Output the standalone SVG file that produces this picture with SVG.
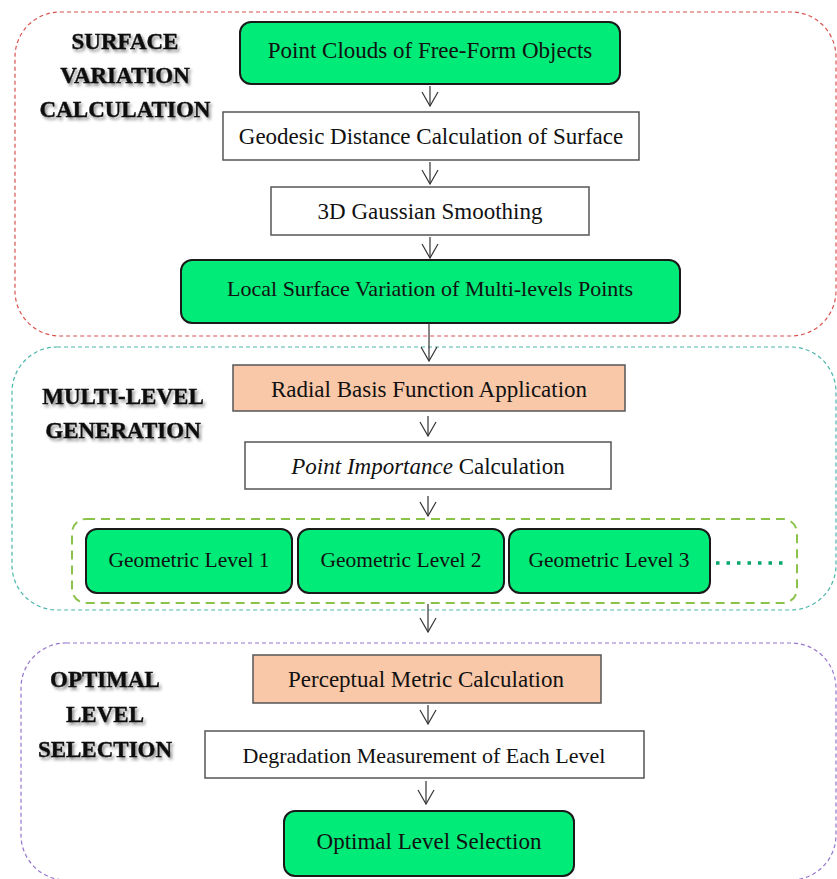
<svg xmlns="http://www.w3.org/2000/svg" width="837" height="879" viewBox="0 0 837 879">
<defs>
<filter id="sh" x="-10%" y="-30%" width="130%" height="170%">
<feDropShadow dx="2" dy="2.5" stdDeviation="1.5" flood-color="#000" flood-opacity="0.45"/>
</filter>
<marker id="v" viewBox="0 0 16 18" refX="15" refY="9" markerWidth="16" markerHeight="18" markerUnits="userSpaceOnUse" orient="auto">
<path d="M1,1 L15,9 L1,17" fill="none" stroke="#333" stroke-width="1.2"/>
</marker>
</defs>
<style>
text{font-family:"Liberation Serif","Times New Roman",serif;fill:#111;}
.t{font-size:23px;text-anchor:middle;}
.s{font-size:22px;}
.g{font-size:21.5px;}
.lab{font-size:23px;font-weight:bold;text-anchor:middle;filter:url(#sh);stroke:#111;stroke-width:0.4;}
.green{fill:#00EB78;stroke:#1a1a1a;stroke-width:2;}
.peach{fill:#F9C8A8;stroke:#555;stroke-width:1.5;}
.white{fill:#fff;stroke:#555;stroke-width:1.5;}
.grp{fill:none;stroke-width:1.2;stroke-dasharray:4 3;}
.arr{stroke:#333;stroke-width:1.2;fill:none;marker-end:url(#v);}
</style>
<rect width="837" height="879" fill="#fff"/>

<g id="section-surface">
<rect class="grp" x="15" y="12" width="821" height="324" rx="45" stroke="#D9534F"/>
<text class="lab" x="125" y="49">SURFACE</text>
<text class="lab" x="125" y="83">VARIATION</text>
<text class="lab" x="125" y="117">CALCULATION</text>
</g>
<g id="section-multilevel">
<rect class="grp" x="12" y="347" width="824" height="263" rx="45" stroke="#4DB6AC"/>
<text class="lab" x="123" y="404">MULTI-LEVEL</text>
<text class="lab" x="123" y="438">GENERATION</text>
</g>
<g id="section-optimal">
<rect class="grp" x="21" y="643" width="815" height="237" rx="45" stroke="#9575CD"/>
<text class="lab" x="105" y="687">OPTIMAL</text>
<text class="lab" x="105" y="722">LEVEL</text>
<text class="lab" x="105" y="757">SELECTION</text>
</g>

<g id="n1"><rect class="green" x="240" y="22" width="380" height="62" rx="11"/><text class="t" x="430" y="58">Point Clouds of Free-Form Objects</text></g>
<g id="n2"><rect class="white" x="223" y="112" width="416" height="48"/><text class="t" x="431" y="144">Geodesic Distance Calculation of Surface</text></g>
<g id="n3"><rect class="white" x="271" y="187" width="318" height="48"/><text class="t" x="430" y="219">3D Gaussian Smoothing</text></g>
<g id="n4"><rect class="green" x="181" y="260" width="499" height="63" rx="11"/><text class="t s" x="430" y="296">Local Surface Variation of Multi-levels Points</text></g>
<g id="n5"><rect class="peach" x="233" y="365" width="392" height="46"/><text class="t" x="429" y="397">Radial Basis Function Application</text></g>
<g id="n6"><rect class="white" x="245" y="442" width="366" height="47"/><text class="t" x="428" y="474"><tspan font-style="italic">Point Importance</tspan> Calculation</text></g>
<g id="levels">
<rect x="72" y="519" width="725" height="84" rx="14" fill="none" stroke="#8BC34A" stroke-width="2" stroke-dasharray="9 6"/>
<line x1="716" y1="563" x2="786" y2="563" stroke="#00A86B" stroke-width="3.5" stroke-dasharray="3.5 7"/>
</g>
<g id="n7"><rect class="green" x="86" y="529" width="206" height="64" rx="11"/><text class="t g" x="189" y="567">Geometric Level 1</text></g>
<g id="n8"><rect class="green" x="298" y="529" width="206" height="64" rx="11"/><text class="t g" x="401" y="567">Geometric Level 2</text></g>
<g id="n9"><rect class="green" x="509" y="529" width="201" height="64" rx="11"/><text class="t g" x="609" y="567">Geometric Level 3</text></g>
<g id="n10"><rect class="peach" x="253" y="655" width="348" height="48"/><text class="t" x="426" y="687">Perceptual Metric Calculation</text></g>
<g id="n11"><rect class="white" x="205" y="731" width="439" height="47"/><text class="t s" x="424" y="763">Degradation Measurement of Each Level</text></g>
<g id="n12"><rect class="green" x="284" y="811" width="290" height="65" rx="11"/><text class="t" x="429" y="849">Optimal Level Selection</text></g>

<g id="connectors">
<line class="arr" x1="430" y1="86" x2="430" y2="106"/>
<line class="arr" x1="430" y1="162" x2="430" y2="184"/>
<line class="arr" x1="430" y1="237" x2="430" y2="258"/>
<line class="arr" x1="429" y1="323" x2="429" y2="361"/>
<line class="arr" x1="428" y1="416" x2="428" y2="436"/>
<line class="arr" x1="428" y1="496" x2="428" y2="516"/>
<line class="arr" x1="428" y1="604" x2="428" y2="632"/>
<line class="arr" x1="428" y1="705" x2="428" y2="724"/>
<line class="arr" x1="426" y1="781" x2="426" y2="804"/>
</g>
</svg>
